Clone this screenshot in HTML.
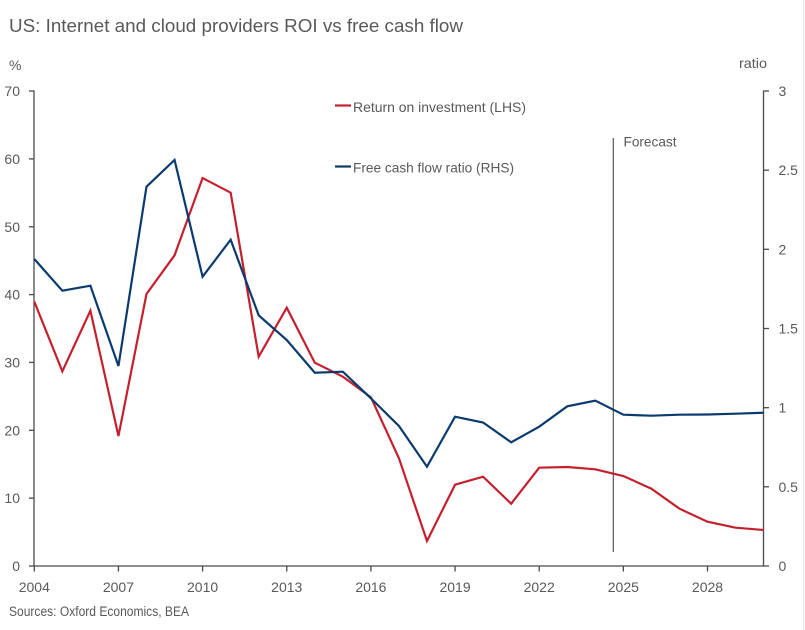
<!DOCTYPE html>
<html>
<head>
<meta charset="utf-8">
<style>
html,body{margin:0;padding:0;background:#fff;}
svg{display:block;}
text{font-family:"Liberation Sans",Arial,sans-serif;fill:#595959;}
</style>
</head>
<body>
<svg width="805" height="630" viewBox="0 0 805 630" xmlns="http://www.w3.org/2000/svg">
<rect x="0" y="0" width="805" height="630" fill="#fff"/>
<line x1="803.5" y1="0" x2="803.5" y2="630" stroke="#e3e3e3" stroke-width="1"/>

<text x="9" y="32" font-size="18.5" textLength="454" lengthAdjust="spacingAndGlyphs">US: Internet and cloud providers ROI vs free cash flow</text>

<text x="9" y="70" font-size="14">%</text>
<text x="739" y="68" font-size="14" textLength="28" lengthAdjust="spacingAndGlyphs">ratio</text>

<!-- axes -->
<g stroke="#4a4a4a" stroke-width="1.3" fill="none">
<line x1="34" y1="90.5" x2="34" y2="566.5"/>
<line x1="763.5" y1="90.5" x2="763.5" y2="566.5"/>
<line x1="34" y1="566" x2="763.5" y2="566"/>
<!-- left ticks -->
<line x1="29" y1="566" x2="34" y2="566"/>
<line x1="29" y1="498.1" x2="34" y2="498.1"/>
<line x1="29" y1="430.3" x2="34" y2="430.3"/>
<line x1="29" y1="362.4" x2="34" y2="362.4"/>
<line x1="29" y1="294.6" x2="34" y2="294.6"/>
<line x1="29" y1="226.8" x2="34" y2="226.8"/>
<line x1="29" y1="158.9" x2="34" y2="158.9"/>
<line x1="29" y1="91" x2="34" y2="91"/>
<!-- right ticks -->
<line x1="763.5" y1="566" x2="769" y2="566"/>
<line x1="763.5" y1="486.8" x2="769" y2="486.8"/>
<line x1="763.5" y1="407.7" x2="769" y2="407.7"/>
<line x1="763.5" y1="328.5" x2="769" y2="328.5"/>
<line x1="763.5" y1="249.3" x2="769" y2="249.3"/>
<line x1="763.5" y1="170.2" x2="769" y2="170.2"/>
<line x1="763.5" y1="91" x2="769" y2="91"/>
<!-- x ticks -->
<line x1="34.3" y1="566" x2="34.3" y2="571.5"/>
<line x1="118.45" y1="566" x2="118.45" y2="571.5"/>
<line x1="202.6" y1="566" x2="202.6" y2="571.5"/>
<line x1="286.75" y1="566" x2="286.75" y2="571.5"/>
<line x1="370.9" y1="566" x2="370.9" y2="571.5"/>
<line x1="455.05" y1="566" x2="455.05" y2="571.5"/>
<line x1="539.2" y1="566" x2="539.2" y2="571.5"/>
<line x1="623.35" y1="566" x2="623.35" y2="571.5"/>
<line x1="707.5" y1="566" x2="707.5" y2="571.5"/>
</g>

<!-- left labels -->
<g font-size="14" text-anchor="end">
<text x="20" y="571">0</text>
<text x="20" y="503.1">10</text>
<text x="20" y="435.3">20</text>
<text x="20" y="367.4">30</text>
<text x="20" y="299.6">40</text>
<text x="20" y="231.8">50</text>
<text x="20" y="163.9">60</text>
<text x="20" y="96">70</text>
</g>
<!-- right labels -->
<g font-size="14">
<text x="778.5" y="571">0</text>
<text x="778.5" y="491.8">0.5</text>
<text x="778.5" y="412.7">1</text>
<text x="778.5" y="333.5">1.5</text>
<text x="778.5" y="254.3">2</text>
<text x="778.5" y="175.2">2.5</text>
<text x="778.5" y="96">3</text>
</g>
<!-- x labels -->
<g font-size="14" text-anchor="middle">
<text x="34.3" y="592">2004</text>
<text x="118.45" y="592">2007</text>
<text x="202.6" y="592">2010</text>
<text x="286.75" y="592">2013</text>
<text x="370.9" y="592">2016</text>
<text x="455.05" y="592">2019</text>
<text x="539.2" y="592">2022</text>
<text x="623.35" y="592">2025</text>
<text x="707.5" y="592">2028</text>
</g>

<text x="9" y="616" font-size="13.5" textLength="180" lengthAdjust="spacingAndGlyphs">Sources: Oxford Economics, BEA</text>

<!-- forecast line -->
<line x1="613.3" y1="138" x2="613.3" y2="552" stroke="#555" stroke-width="1.2"/>
<text x="623.5" y="146.5" font-size="14" textLength="53" lengthAdjust="spacingAndGlyphs">Forecast</text>

<!-- legend -->
<line x1="335" y1="105.5" x2="351" y2="105.5" stroke="#c5202e" stroke-width="2.2"/>
<text x="353" y="112" font-size="14" textLength="173" lengthAdjust="spacingAndGlyphs">Return on investment (LHS)</text>
<line x1="335" y1="166.5" x2="351" y2="166.5" stroke="#0b3b6e" stroke-width="2.2"/>
<text x="353" y="172.5" font-size="14" textLength="161" lengthAdjust="spacingAndGlyphs">Free cash flow ratio (RHS)</text>

<!-- series -->
<polyline fill="none" stroke="#c5202e" stroke-width="2.2" stroke-linejoin="miter" points="
34.3,301.7 62.35,371.3 90.4,310.7 118.45,436 146.5,294 174.55,255.3 202.6,178 230.65,192.7 258.7,356.7 286.75,307.7 314.8,362.7 342.85,376.7 370.9,397.3 398.95,458.3 427,541 455.05,484.7 483.1,476.7 511.15,503.7 539.2,467.7 567.25,467 595.3,469.3 623.35,476 651.4,488.7 679.45,508.7 707.5,521.7 735.55,527.7 763.6,530"/>
<polyline fill="none" stroke="#0b3b6e" stroke-width="2.2" stroke-linejoin="miter" points="
34.3,259 62.35,290.7 90.4,285.7 118.45,366 146.5,186.7 174.55,160 202.6,276.7 230.65,239.7 258.7,315.3 286.75,340 314.8,372.7 342.85,371.7 370.9,398.3 398.95,426 427,466.7 455.05,416.7 483.1,422.5 511.15,442.3 539.2,426.7 567.25,406.3 595.3,400.7 623.35,414.7 651.4,415.7 679.45,414.7 707.5,414.5 735.55,413.7 763.6,412.7"/>
</svg>
</body>
</html>
